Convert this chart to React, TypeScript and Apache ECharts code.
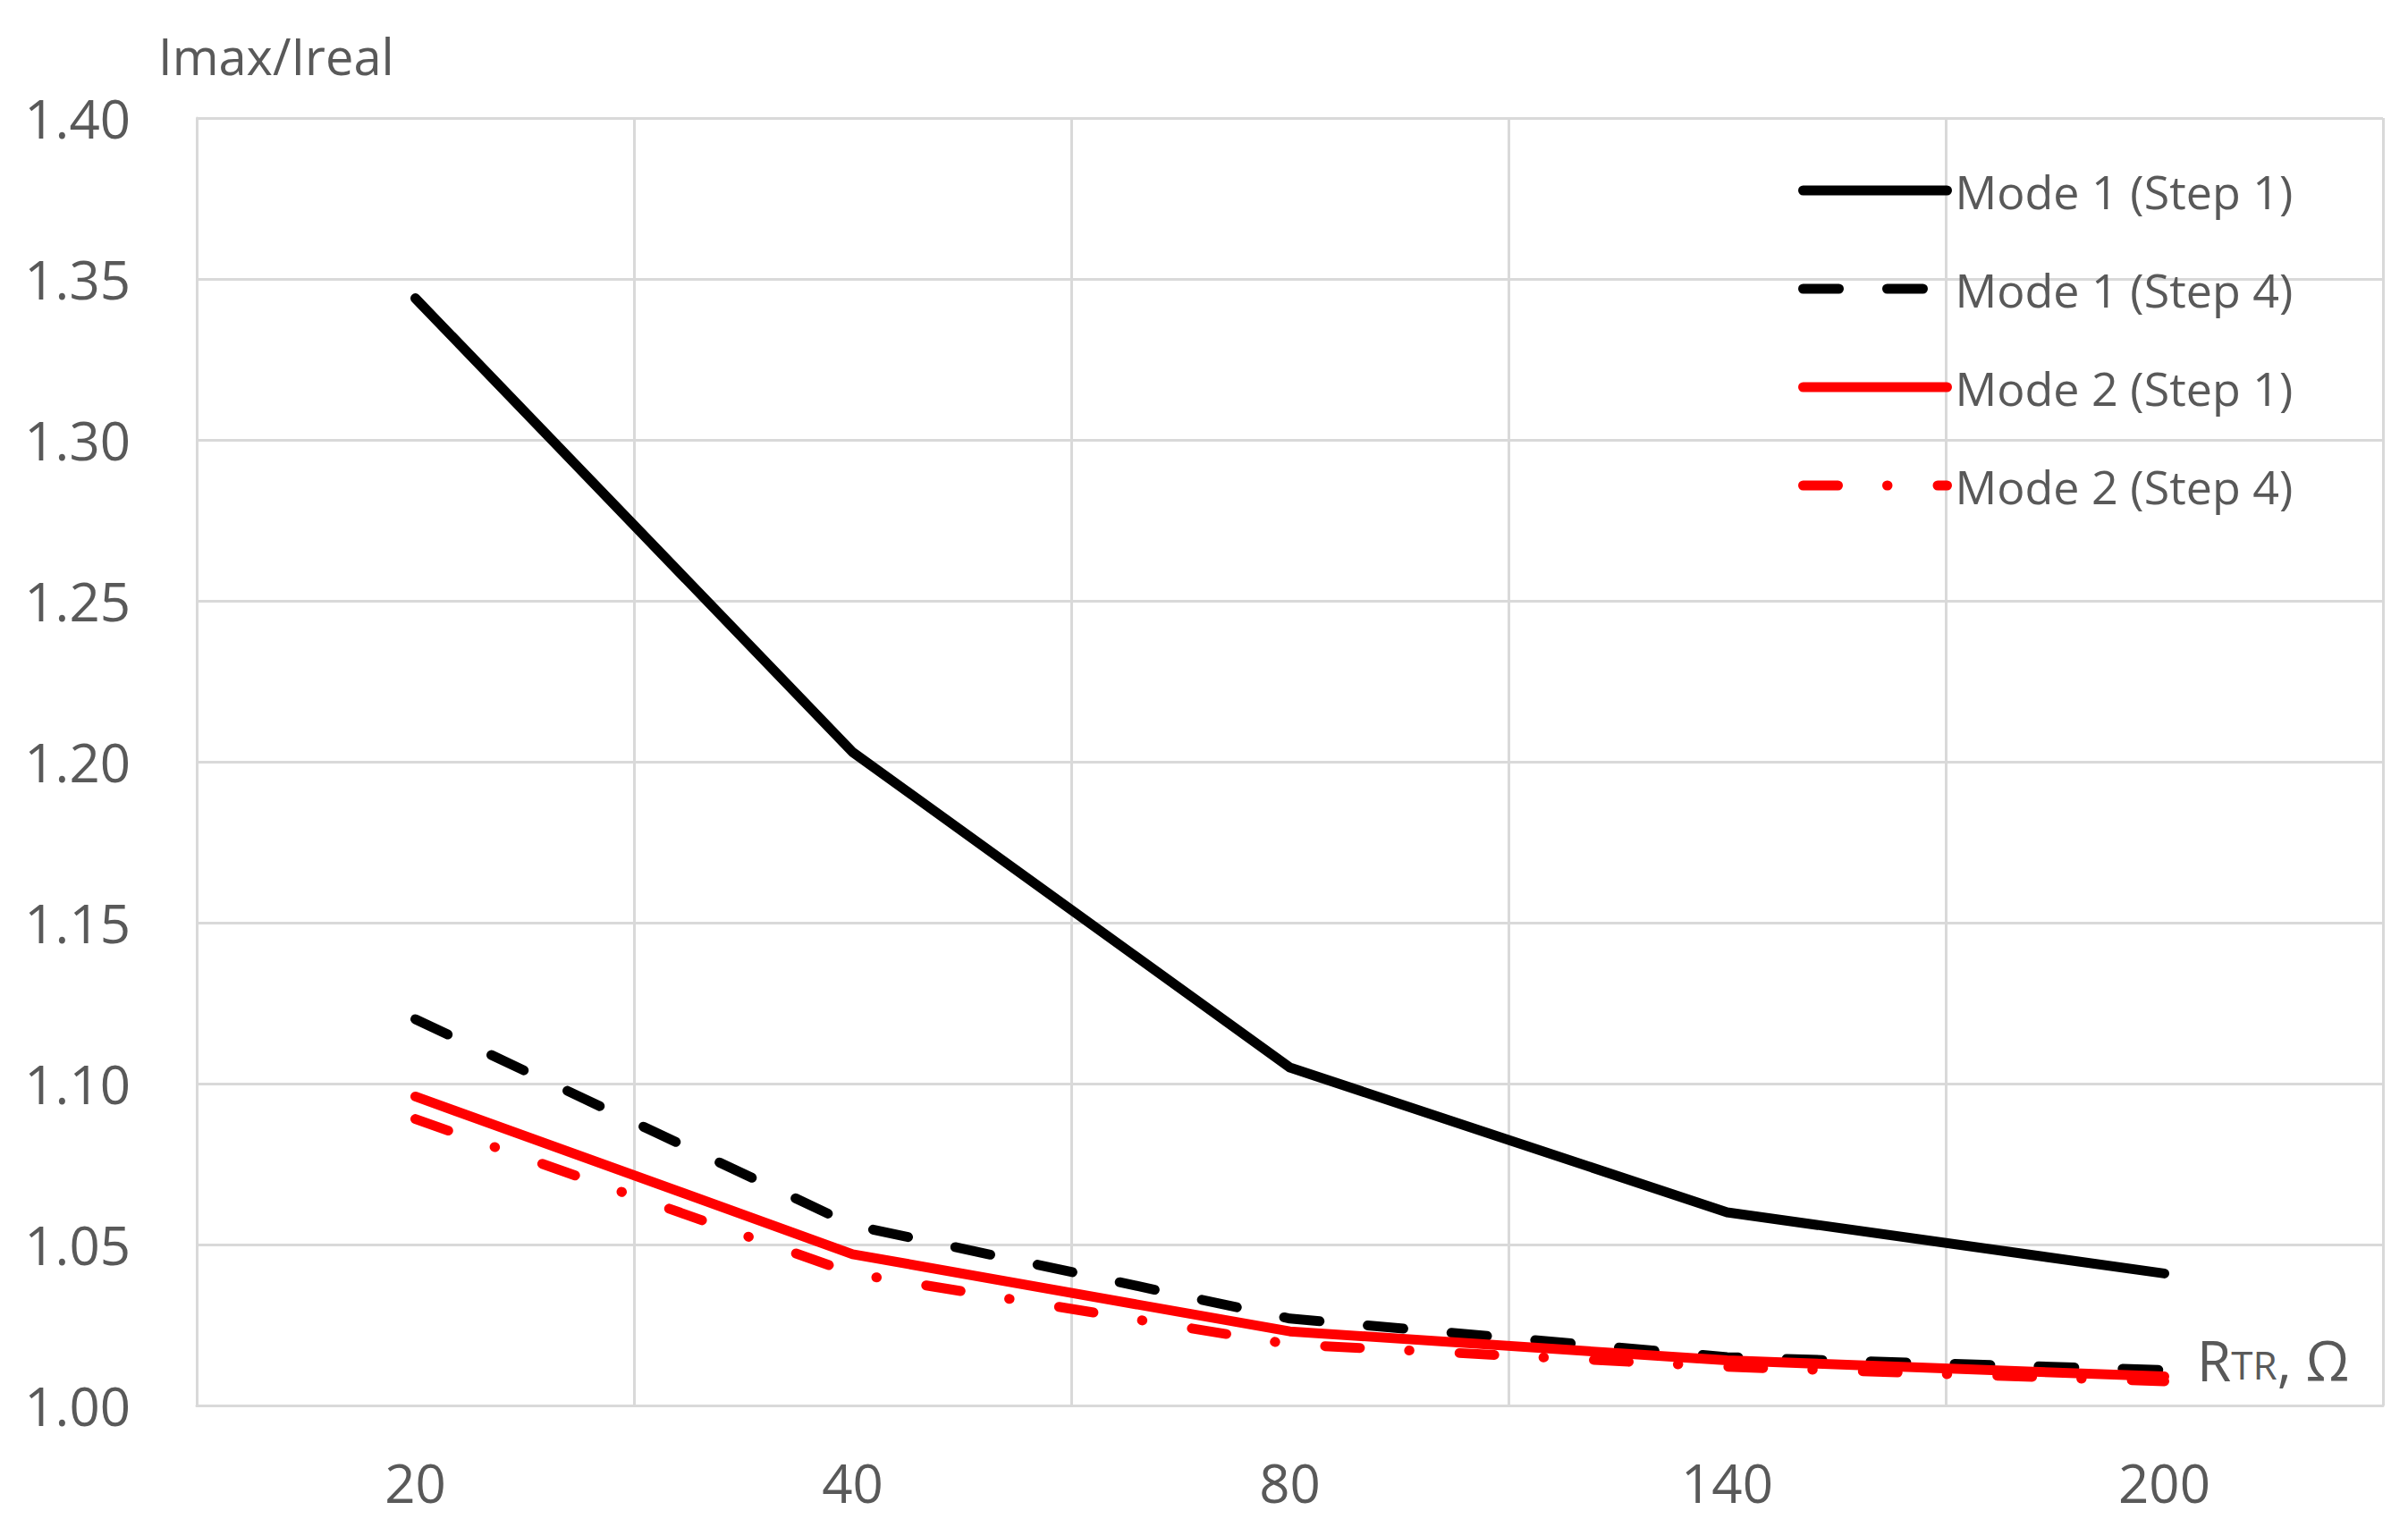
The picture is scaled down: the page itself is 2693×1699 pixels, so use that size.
import React, { useEffect, useRef } from "react";
import * as echarts from "echarts";

const categories = ["20", "40", "80", "140", "200"];
const mode1Step1 = [1.344, 1.203, 1.105, 1.06, 1.041];
const mode1Step4 = [1.12, 1.056, 1.027, 1.015, 1.011];
const mode2Step1 = [1.096, 1.047, 1.023, 1.014, 1.009];
const mode2Step4 = [1.089, 1.041, 1.019, 1.012, 1.0075];
const seriesNames = ["Mode 1 (Step 1)", "Mode 1 (Step 4)", "Mode 2 (Step 1)", "Mode 2 (Step 4)"];
const yAxisTitle = "Imax/Ireal";

const FONT = "'Open Sans', 'Noto Sans', sans-serif";
const GRAY = "#595959";
const GRID = "#d9d9d9";
const LW = 11;

export default function App() {
  const ref = useRef<HTMLDivElement>(null);
  useEffect(() => {
    document.body.style.margin = "0";
    const chart = echarts.init(ref.current!, null, { renderer: "svg" });
    const lineBase = { type: "line", symbol: "none", smooth: false };
    chart.setOption({
      animation: false,
      backgroundColor: "#ffffff",
      textStyle: { fontFamily: FONT },
      grid: { left: 220, right: 28, top: 132, bottom: 127, containLabel: false },
      legend: {
        orient: "vertical",
        left: 2006,
        top: 178,
        itemWidth: 161,
        itemHeight: 20,
        itemGap: 50,
        lineStyle: { width: LW },
        itemStyle: { opacity: 0 },
        textStyle: {
          fontFamily: FONT,
          fontSize: 52,
          color: GRAY,
          lineHeight: 60,
          padding: [0, 0, 0, 4],
        },
        data: seriesNames,
      },
      xAxis: {
        type: "category",
        data: categories,
        boundaryGap: true,
        axisLine: { show: true, lineStyle: { color: GRID, width: 3 } },
        axisTick: { show: false },
        splitLine: { show: true, interval: 0, lineStyle: { color: GRID, width: 3 } },
        axisLabel: { fontFamily: FONT, fontSize: 60, color: GRAY, margin: 56, interval: 0 },
      },
      yAxis: {
        type: "value",
        min: 1.0,
        max: 1.4,
        interval: 0.05,
        axisLine: { show: true, lineStyle: { color: GRID, width: 3 } },
        axisTick: { show: false },
        splitLine: { show: true, lineStyle: { color: GRID, width: 3 } },
        axisLabel: {
          fontFamily: FONT,
          fontSize: 60,
          color: GRAY,
          margin: 74,
          formatter: (v: number) => v.toFixed(2),
        },
      },
      graphic: [
        {
          type: "text",
          left: 177,
          top: 34,
          style: { text: yAxisTitle, fontFamily: FONT, fontSize: 56, fill: GRAY },
        },
        {
          type: "text",
          left: 2457,
          top: 1490,
          style: {
            text: "{a|R}{b|TR}{a|, Ω}",
            fill: GRAY,
            rich: {
              a: { fontFamily: FONT, fontSize: 62, fill: GRAY, lineHeight: 70, verticalAlign: "bottom" },
              b: { fontFamily: FONT, fontSize: 44, fill: GRAY, lineHeight: 70, verticalAlign: "bottom", padding: [0, 0, 4, 0] },
            },
          },
        },
      ],
      series: [
        {
          ...lineBase,
          name: seriesNames[0],
          data: mode1Step1,
          lineStyle: { color: "#000000", width: LW, type: "solid", cap: "round", join: "round" },
          itemStyle: { color: "#000000" },
          z: 4,
        },
        {
          ...lineBase,
          name: seriesNames[1],
          data: mode1Step4,
          lineStyle: { color: "#000000", width: LW, type: [40, 54], cap: "round", join: "round" },
          itemStyle: { color: "#000000" },
          z: 3,
        },
        {
          ...lineBase,
          name: seriesNames[2],
          data: mode2Step1,
          lineStyle: { color: "#ff0000", width: LW, type: "solid", cap: "round", join: "round" },
          itemStyle: { color: "#ff0000" },
          z: 5,
        },
        {
          ...lineBase,
          name: seriesNames[3],
          data: mode2Step4,
          lineStyle: { color: "#ff0000", width: LW, type: [39, 55, 0.5, 56], cap: "round", join: "round" },
          itemStyle: { color: "#ff0000" },
          z: 6,
        },
      ],
    });
    return () => chart.dispose();
  }, []);
  return <div ref={ref} style={{ width: 2693, height: 1699 }} />;
}
